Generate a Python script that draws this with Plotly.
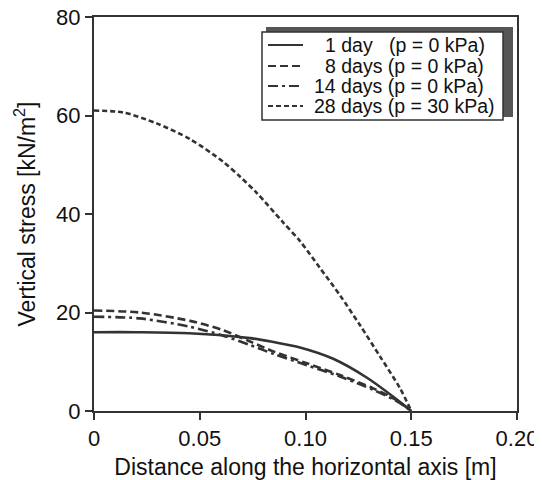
import plotly.graph_objects as go

x_1d = [0, 0.02, 0.045, 0.0738, 0.0848, 0.0974, 0.1131, 0.1289, 0.1415, 0.15]
y_1d = [16.0, 16.0, 15.8, 14.8, 14.0, 12.9, 10.6, 6.8, 2.9, 0]

x_8d = [0, 0.0217, 0.0454, 0.0611, 0.0738, 0.0848, 0.1006, 0.1163, 0.132, 0.1431, 0.15]
y_8d = [20.4, 20.0, 18.3, 16.4, 14.1, 12.1, 9.7, 7.3, 4.6, 2.2, 0]

x_14d = [0, 0.0217, 0.0454, 0.0611, 0.0738, 0.0848, 0.1006, 0.1163, 0.132, 0.1431, 0.15]
y_14d = [19.15, 18.8, 17.1, 15.3, 13.4, 11.6, 9.3, 7.0, 4.3, 2.0, 0]

x_28d = [0, 0.0139, 0.0296, 0.0454, 0.0611, 0.069, 0.0769, 0.0894, 0.0974,
         0.1069, 0.1163, 0.1258, 0.1352, 0.1447, 0.15]
y_28d = [61.0, 60.6, 58.4, 55.2, 50.6, 47.6, 44.3, 38.3, 34.5,
         29.0, 23.5, 17.4, 11.1, 4.6, 0]

names = ["1 day\u00a0\u00a0\u00a0(p = 0 kPa)", "8 days (p = 0 kPa)",
         "14 days (p = 0 kPa)", "28 days (p = 30 kPa)"]
dashes = ["solid", "8px,4px", "10px,4px,3px,4px", "5px,3px"]

col = "#333333"
FONT = "Liberation Sans, Arial, sans-serif"

# page has an 8px body margin; figure is sized so the plot area lands at
# page pixels x 94..517, y 17..411
OFF = 8
W, H = 534, 472
L, R, T, B = 86, 25, 9, 69
pw, ph = W - L - R, H - T - B


def px(xp):
    return (xp - OFF - L) / pw


def py(yp):
    return (H - B - (yp - OFF)) / ph


fig = go.Figure()
series = [(x_1d, y_1d), (x_8d, y_8d), (x_14d, y_14d), (x_28d, y_28d)]
for (xs, ys), n, d in zip(series, names, dashes):
    fig.add_trace(go.Scatter(x=xs, y=ys, mode="lines", name=n, showlegend=False,
                             line=dict(color=col, width=2.6, dash=d,
                                       shape="spline", smoothing=0.8)))

axis_common = dict(showgrid=False, zeroline=False, showline=True, linecolor=col,
                   linewidth=2, mirror=True, ticks="outside", ticklen=7,
                   tickcolor=col, tickwidth=1.5, tickfont=dict(size=22),
                   automargin=False, ticklabeloverflow="allow")

fig.update_layout(
    width=W, height=H,
    margin=dict(l=L, r=R, t=T, b=B),
    paper_bgcolor="white", plot_bgcolor="white",
    font=dict(family=FONT, size=20, color="#111"),
    showlegend=False,
    xaxis=dict(range=[0, 0.2], tickvals=[0, 0.05, 0.10, 0.15, 0.20],
               ticktext=["0", "0.05", "0.10", "0.15", "0.20"],
               title=dict(text="Distance along the horizontal axis [m]",
                          font=dict(size=23), standoff=8),
               **axis_common),
    yaxis=dict(range=[0, 80], tickvals=[0, 20, 40, 60, 80],
               title=dict(text="Vertical stress [kN/m<sup>2</sup>]",
                          font=dict(size=23), standoff=14),
               **axis_common),
)

# legend: shadow, box, line samples and labels
fig.add_shape(type="rect", xref="paper", yref="paper",
              x0=px(266), x1=px(513), y0=py(117), y1=py(27),
              fillcolor="#555555", line=dict(width=0), layer="above")
fig.add_shape(type="rect", xref="paper", yref="paper",
              x0=px(262), x1=px(503), y0=py(120), y1=py(32),
              fillcolor="white", line=dict(color=col, width=1.5), layer="above")
rows_y = [45, 66, 86, 106]
text_x = [322.5, 322.5, 311.5, 311.5]
for n, d, yy, tx in zip(names, dashes, rows_y, text_x):
    fig.add_shape(type="line", xref="paper", yref="paper",
                  x0=px(268), x1=px(303), y0=py(yy), y1=py(yy),
                  line=dict(color=col, width=2, dash=d), layer="above")
    fig.add_annotation(xref="paper", yref="paper", x=px(tx), y=py(yy),
                       xanchor="left", yanchor="middle", showarrow=False,
                       text=n, font=dict(family=FONT, size=19.5, color="#111"))

fig.write_html("out.html")
